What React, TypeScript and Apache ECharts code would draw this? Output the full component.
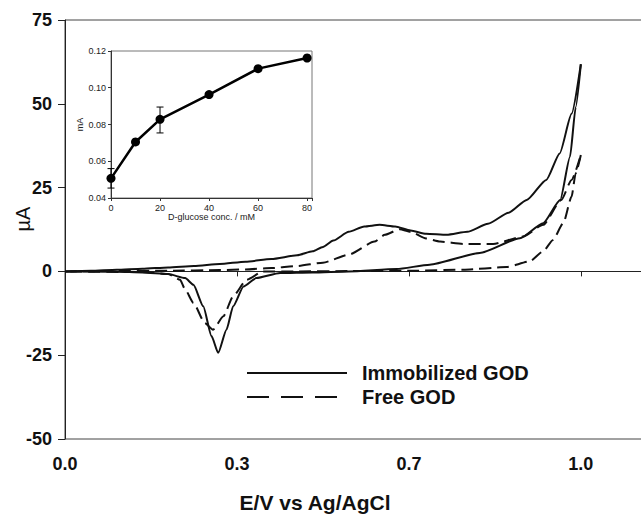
import React, { useEffect, useRef } from "react";
import * as echarts from "echarts";

// ---------- Main CV data (E in V vs Ag/AgCl, I in µA) ----------
const seriesNames = ["Immobilized GOD", "Free GOD"];

const immobilizedAnodic: [number, number][] = [
  [0.0, 0.0], [0.05, 0.2], [0.1, 0.5], [0.15, 0.8], [0.2, 1.2], [0.25, 1.6],
  [0.3, 2.2], [0.35, 2.9], [0.4, 3.7], [0.45, 4.8], [0.48, 6.0], [0.5, 7.3],
  [0.52, 9.2], [0.55, 11.8], [0.58, 13.4], [0.61, 13.9], [0.64, 13.4],
  [0.67, 12.2], [0.7, 11.2], [0.74, 10.9], [0.78, 11.8], [0.82, 14.2],
  [0.86, 17.5], [0.895, 21.3], [0.933, 27.3], [0.959, 35.2], [0.982, 47.0],
  [1.0, 61.8],
];
const immobilizedCathodic: [number, number][] = [
  [1.0, 61.8], [0.99, 49.0], [0.979, 34.2], [0.96, 21.3], [0.927, 14.4],
  [0.882, 9.9], [0.804, 5.5], [0.707, 2.0], [0.643, 0.7], [0.55, 0.0],
  [0.48, -0.3], [0.417, -0.5], [0.371, -2.0], [0.346, -4.5], [0.326, -10.4],
  [0.313, -17.4], [0.297, -24.3], [0.284, -19.3], [0.268, -10.4],
  [0.249, -4.0], [0.233, -2.0], [0.2, -0.8], [0.15, -0.3], [0.1, -0.1],
  [0.0, 0.0],
];
const freeAnodic: [number, number][] = [
  [0.0, 0.0], [0.1, 0.1], [0.2, 0.2], [0.3, 0.4], [0.35, 0.6], [0.4, 1.0],
  [0.45, 1.6], [0.5, 2.6], [0.55, 5.0], [0.6, 8.9], [0.62, 10.9],
  [0.649, 12.6], [0.67, 11.8], [0.7, 9.8], [0.727, 8.9], [0.772, 8.2],
  [0.83, 8.2], [0.888, 10.4], [0.927, 13.9], [0.962, 21.3], [0.982, 27.3],
  [1.0, 34.7],
];
const freeCathodic: [number, number][] = [
  [1.0, 34.7], [0.99, 29.3], [0.982, 22.3], [0.966, 14.4], [0.946, 9.4],
  [0.927, 6.0], [0.901, 3.0], [0.856, 1.3], [0.772, 0.5], [0.675, 0.2],
  [0.55, 0.1], [0.45, 0.0], [0.384, 0.0], [0.352, -2.5], [0.326, -7.4],
  [0.307, -13.4], [0.287, -17.4], [0.271, -15.4], [0.249, -9.4],
  [0.233, -5.4], [0.223, -2.5], [0.2, -0.8], [0.15, -0.2], [0.0, 0.0],
];

// ---------- Inset data (mA vs D-glucose conc.) ----------
const insetConc = [0, 10, 20, 40, 60, 80];
const insetCurrent = [0.0507, 0.0705, 0.0828, 0.0963, 0.1104, 0.1162];
const errConc = [0, 20];
const errLow = [0.0454, 0.0754];
const errHigh = [0.056, 0.0895];

const FONT = "'Liberation Sans', Arial, Helvetica, sans-serif";
const INK = "#111";

export default function App() {
  const ref = useRef<HTMLDivElement>(null);

  useEffect(() => {
    if (!ref.current) return;
    const chart = echarts.init(ref.current, undefined, { renderer: "svg" });

    const thirdsLabel = (v: number) => {
      const k = v * 3;
      return Math.abs(k - Math.round(k)) < 1e-6 ? v.toFixed(1) : "";
    };

    const option: any = {
      animation: false,
      backgroundColor: "#fff",
      grid: [
        {
          left: 65, top: 20, right: -10, bottom: 75,
          outerBoundsMode: "none", containLabel: false,
          show: true, borderColor: "#444", borderWidth: 1,
          backgroundColor: "transparent",
        },
        {
          left: 111, top: 51, width: 201, height: 147,
          outerBoundsMode: "none", containLabel: false,
          show: true, borderColor: "#777", borderWidth: 1,
          backgroundColor: "#fff",
        },
      ],
      xAxis: [
        {
          type: "value", gridIndex: 0, min: 0, max: 1.136, interval: 1 / 3,
          axisLine: { show: true, lineStyle: { color: "#222", width: 1 } },
          axisTick: { show: true, length: 5, lineStyle: { color: "#222" } },
          splitLine: { show: false },
          axisLabel: {
            formatter: thirdsLabel, margin: 16,
            fontFamily: FONT, fontSize: 18, fontWeight: "bold", color: INK,
          },
        },
        {
          type: "value", gridIndex: 1, min: 0, max: 82, interval: 20,
          axisLine: { show: true, lineStyle: { color: "#333", width: 1 } },
          axisTick: { show: true, length: 3, lineStyle: { color: "#333" } },
          splitLine: { show: false },
          axisLabel: {
            formatter: (v: number) => (v % 20 === 0 ? String(v) : ""),
            margin: 5, fontFamily: FONT, fontSize: 9, color: "#222",
          },
          name: "D-glucose conc. / mM",
          nameLocation: "middle", nameGap: 13,
          nameTextStyle: { fontFamily: FONT, fontSize: 9, color: "#222" },
        },
      ],
      yAxis: [
        {
          type: "value", gridIndex: 0, min: -50, max: 75, interval: 25,
          axisLine: { show: true, lineStyle: { color: "#222", width: 1 } },
          axisTick: { show: true, length: 7, lineStyle: { color: "#222" } },
          splitLine: { show: false },
          axisLabel: {
            margin: 13, fontFamily: FONT, fontSize: 18, fontWeight: "bold",
            color: INK,
          },
        },
        {
          type: "value", gridIndex: 1, min: 0.04, max: 0.12, interval: 0.02,
          axisLine: { show: true, lineStyle: { color: "#333", width: 1 } },
          axisTick: { show: true, length: 3, lineStyle: { color: "#333" } },
          splitLine: { show: false },
          axisLabel: {
            formatter: (v: number) => v.toFixed(2), margin: 5,
            fontFamily: FONT, fontSize: 9, color: "#222",
          },
          name: "mA", nameLocation: "middle", nameGap: 27, nameRotate: 90,
          nameTextStyle: { fontFamily: FONT, fontSize: 9, color: "#222" },
        },
      ],
      series: [
        {
          type: "line", name: seriesNames[1], data: freeAnodic,
          xAxisIndex: 0, yAxisIndex: 0, symbol: "none", showSymbol: false,
          smooth: 0.2, smoothMonotone: "x",
          lineStyle: { color: INK, width: 2, type: [12, 6] },
        },
        {
          type: "line", name: seriesNames[1], data: freeCathodic,
          xAxisIndex: 0, yAxisIndex: 0, symbol: "none", showSymbol: false,
          smooth: 0.2, smoothMonotone: "x",
          lineStyle: { color: INK, width: 2, type: [12, 6] },
        },
        {
          type: "line", name: seriesNames[0], data: immobilizedAnodic,
          xAxisIndex: 0, yAxisIndex: 0, symbol: "none", showSymbol: false,
          smooth: 0.2, smoothMonotone: "x",
          lineStyle: { color: INK, width: 2 },
        },
        {
          type: "line", name: seriesNames[0], data: immobilizedCathodic,
          xAxisIndex: 0, yAxisIndex: 0, symbol: "none", showSymbol: false,
          smooth: 0.2, smoothMonotone: "x",
          lineStyle: { color: INK, width: 2 },
        },
        {
          type: "line", name: "inset",
          data: insetConc.map((c, i) => [c, insetCurrent[i]]),
          xAxisIndex: 1, yAxisIndex: 1,
          symbol: "circle", symbolSize: 9, showSymbol: true,
          itemStyle: { color: "#000" },
          lineStyle: { color: "#000", width: 2.5 },
        },
        {
          type: "custom", name: "errors",
          xAxisIndex: 1, yAxisIndex: 1, z: 5,
          data: errConc.map((c, i) => [c, errLow[i], errHigh[i]]),
          renderItem: (_p: any, api: any) => {
            const x = api.value(0);
            const lo = api.coord([x, api.value(1)]);
            const hi = api.coord([x, api.value(2)]);
            const style = { stroke: "#000", lineWidth: 1 };
            const cap = 3.5;
            return {
              type: "group",
              children: [
                { type: "line", shape: { x1: lo[0], y1: lo[1], x2: hi[0], y2: hi[1] }, style },
                { type: "line", shape: { x1: lo[0] - cap, y1: lo[1], x2: lo[0] + cap, y2: lo[1] }, style },
                { type: "line", shape: { x1: hi[0] - cap, y1: hi[1], x2: hi[0] + cap, y2: hi[1] }, style },
              ],
            };
          },
        },
      ],
      graphic: [
        {
          type: "text", x: 23, y: 219, rotation: Math.PI / 2,
          style: {
            text: "µA", font: `normal 20px ${FONT}`, fill: INK,
            align: "center", verticalAlign: "middle",
          },
        },
        {
          type: "text", x: 315, y: 502,
          style: {
            text: "E/V vs Ag/AgCl", font: `bold 21px ${FONT}`, fill: INK,
            align: "center", verticalAlign: "middle",
          },
        },
        {
          type: "line", shape: { x1: 247, y1: 373, x2: 347, y2: 373 },
          style: { stroke: INK, lineWidth: 2 },
        },
        {
          type: "text", x: 362, y: 373,
          style: {
            text: seriesNames[0], font: `bold 20px ${FONT}`, fill: INK,
            align: "left", verticalAlign: "middle",
          },
        },
        {
          type: "line", shape: { x1: 247, y1: 397, x2: 337, y2: 397 },
          style: { stroke: INK, lineWidth: 2, lineDash: [22, 12] },
        },
        {
          type: "text", x: 362, y: 397,
          style: {
            text: seriesNames[1], font: `bold 20px ${FONT}`, fill: INK,
            align: "left", verticalAlign: "middle",
          },
        },
      ],
    };

    chart.setOption(option);
    return () => chart.dispose();
  }, []);

  return (
    <div
      ref={ref}
      style={{ position: "fixed", left: 0, top: 0, width: 641, height: 514, background: "#fff" }}
    />
  );
}
